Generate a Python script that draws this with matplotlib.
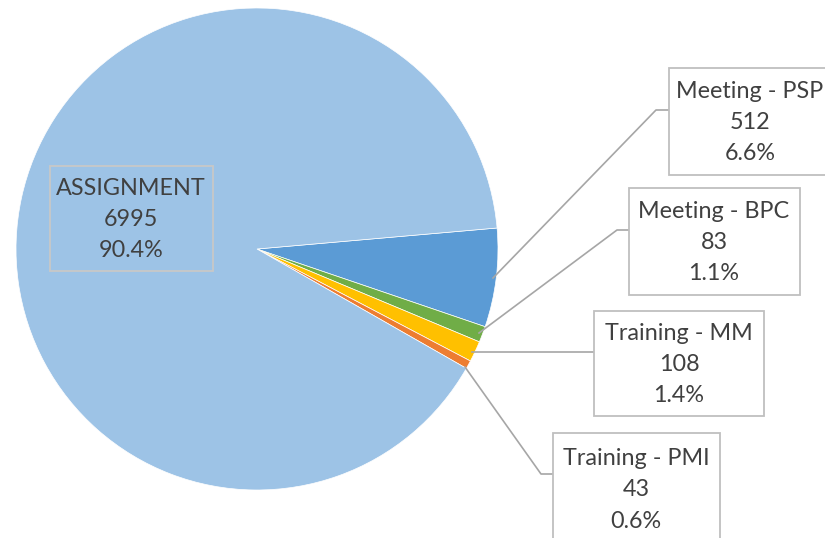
import matplotlib.pyplot as plt
from matplotlib.patches import Rectangle

# data
labels = ["Meeting - PSP", "Meeting - BPC", "Training - MM", "Training - PMI", "ASSIGNMENT"]
values = [512, 83, 108, 43, 6995]
colors = ["#5B9BD5", "#70AD47", "#FFC000", "#ED7D31", "#9DC3E6"]

W, H = 825, 538
fig = plt.figure(figsize=(W / 100, H / 100), dpi=100)
ax = fig.add_axes([0, 0, 1, 1])

def py(y):
    # pixel row (top-down) -> data y
    return H - y

cx, cy, r = 257, py(249), 241
ax.pie(values, colors=colors, startangle=5, counterclock=False,
       center=(cx, cy), radius=r, frame=True,
       wedgeprops=dict(edgecolor="white", linewidth=0.5))
ax.set_xlim(0, W)
ax.set_ylim(0, H)
ax.axis("off")

total = sum(values)
txt = [f"{l}\n{v}\n{v / total * 100:.1f}%" for l, v in zip(labels, values)]

# label boxes (pixel layout: x0, x1, y0, y1) and leader lines
boxes = [(669, 840, 68, 175), (629, 800, 188, 295), (594, 764, 311, 416),
         (553, 720, 433, 545), (50, 213, 166, 271)]
text_x = [750, 714, 679, 636, 131]
leaders = [
    [(493, 278), (656, 110), (669, 110)],
    [(479, 333), (617, 230), (629, 230)],
    [(472, 352), (594, 352)],
    [(465, 367), (541, 474), (553, 474)],
    None,
]

for i in range(len(labels)):
    x0, x1, y0, y1 = boxes[i]
    fc = "white" if i < 4 else "none"
    ec = "#BFBFBF" if i < 4 else "#C8C8C8"
    ax.add_patch(Rectangle((x0, py(y1)), x1 - x0, y1 - y0, facecolor=fc,
                           edgecolor=ec, linewidth=1.3, zorder=3, clip_on=False))
    ax.text(text_x[i], py((y0 + y1) / 2 + 1), txt[i], ha="center", va="center",
            fontsize=16.8, family="Lato", color="#404040", linespacing=1.6, zorder=4)
    if leaders[i]:
        xs = [p[0] for p in leaders[i]]
        ys = [py(p[1]) for p in leaders[i]]
        ax.plot(xs, ys, color="#A6A6A6", linewidth=1.2, zorder=2)

fig.savefig("out.png", dpi=100)
